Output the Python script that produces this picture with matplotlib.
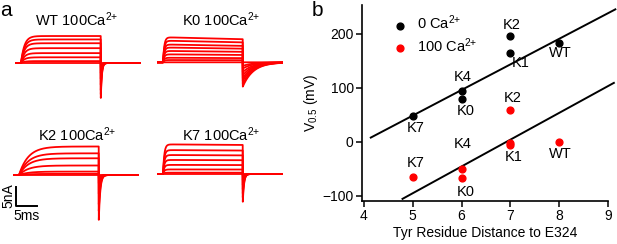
import numpy as np
import matplotlib.pyplot as plt

plt.rcParams['font.family'] = ['Liberation Sans', 'DejaVu Sans']
plt.rcParams['mathtext.fontset'] = 'custom'
plt.rcParams['mathtext.rm'] = 'Liberation Sans'
plt.rcParams['mathtext.it'] = 'Liberation Sans:italic'

W, H = 617, 244

# ---- panel a: current traces (steady-state levels in nA)
rec_names = ['WT', 'K0', 'K2', 'K7']
rec_levels = {
    'WT': [7.1, 6.2, 5.2, 3.9, 2.6, 1.5, 0.5, 0.0],
    'K0': [6.6, 5.7, 4.7, 3.9, 3.0, 2.1, 1.2, 0.6, 0.0],
    'K2': [7.5, 5.7, 4.4, 2.5, 0.9, 0.3, 0.0],
    'K7': [7.8, 6.3, 5.0, 3.7, 2.4, 1.2, 0.35, 0.0],
}
rec_tau_on = {'WT': 0.8, 'K0': 0.3, 'K2': 2.2, 'K7': 0.3}      # ms
rec_droop = {'WT': 0.0, 'K0': 0.08, 'K2': 0.0, 'K7': 0.02}     # fraction lost over step
rec_tail = {'WT': -9.2, 'K0': -6.4, 'K2': -11.8, 'K7': -7.3}   # nA, tail peak
rec_tau_tail = {'WT': 0.25, 'K0': 2.5, 'K2': 0.35, 'K7': 0.3}  # ms
# pixel position of step onset and baseline for each recording
rec_pos = {'WT': (21, 63), 'K0': (163, 62.3), 'K2': (19, 175), 'K7': (163, 174)}
rec_title_pos = {'WT': (77, 20), 'K0': (221, 20), 'K2': (77, 135), 'K7': (221, 135)}

t_on, t_off, t_end = 1.5, 20.5, 30.0
px_ms, px_nA = 4.2, 3.8
ylo, yhi = -13.0, 9.0

fig = plt.figure(figsize=(W / 100, H / 100), dpi=100)

t = np.arange(0, t_end, 0.02)
axes_a = {}
for name in rec_names:
    x_on, y_base = rec_pos[name]
    x0 = x_on - t_on * px_ms
    y_top = y_base - yhi * px_nA
    ax = fig.add_axes([x0 / W, 1 - (y_top + (yhi - ylo) * px_nA) / H,
                       t_end * px_ms / W, (yhi - ylo) * px_nA / H])
    ax.set_xlim(0, t_end)
    ax.set_ylim(ylo, yhi)
    ax.axis('off')
    levels = rec_levels[name]
    amax = max(levels)
    for a in levels:
        i = np.zeros_like(t)
        m = (t >= t_on) & (t < t_off)
        rise = 1 - np.exp(-(t[m] - t_on) / rec_tau_on[name])
        drop = 1 - rec_droop[name] * (t[m] - t_on) / (t_off - t_on)
        i[m] = a * rise * drop
        m2 = t >= t_off
        i[m2] = rec_tail[name] * (a / amax) ** 0.8 * np.exp(-(t[m2] - t_off) / rec_tau_tail[name])
        ax.plot(t, i, color='#ff0000', lw=1.3)
    axes_a[name] = ax
    tx, ty = rec_title_pos[name]
    fig.text(tx / W, 1 - ty / H, name + r' 100Ca$^{2{+}}$', ha='center', va='center', fontsize=10.5)

# scale bar (5 nA, 5 ms) drawn in K2 axes coordinates
ax = axes_a['K2']
sb_t, sb_i = 0.8, -8.2
ax.plot([sb_t, sb_t, sb_t + 5], [sb_i + 5, sb_i, sb_i], color='black', lw=1.4, clip_on=False)
fig.text(8 / W, 1 - 196 / H, '5nA', rotation=90, ha='center', va='center', fontsize=10)
fig.text(27 / W, 1 - 216 / H, '5ms', ha='center', va='center', fontsize=10)

fig.text(0 / W, 1 - 10 / H, 'a', ha='left', va='center', fontsize=15)
fig.text(312 / W, 1 - 11 / H, 'b', ha='left', va='center', fontsize=15)

# ---- panel b: V0.5 vs distance
mut_0 = ['K7', 'K4', 'K0', 'K2', 'K1', 'WT']
dist_0 = [5, 6, 6, 7, 7, 8]
v_0 = [48, 94.5, 79, 195.7, 165, 183]
lab_0 = [(5.06, 25), (6.03, 119), (6.08, 56), (7.03, 216), (7.22, 145), (8.02, 165)]

mut_100 = ['K7', 'K4', 'K0', 'K2', 'K1', 'K1', 'WT']
dist_100 = [5, 6, 6, 7, 7, 7, 8]
v_100 = [-65, -51, -68, 59, -3, -7, 0]
lab_100 = {'K7': (5.06, -39), 'K4': (6.03, -4), 'K0': (6.08, -94),
           'K2': (7.05, 80), 'K1': (7.07, -28), 'WT': (8.02, -23)}

# regression lines: slope, intercept, x range
fit_0 = (47.4, -188.8, 4.14, 9.15)
fit_100 = (49.6, -343.6, 4.79, 9.12)

axb = fig.add_axes([362 / W, 1 - 201 / H, 246 / W, 196 / H])
for slope, icpt, xa, xb in (fit_0, fit_100):
    xs = np.array([xa, xb])
    axb.plot(xs, slope * xs + icpt, color='black', lw=1.4, clip_on=False)

axb.scatter(dist_0, v_0, s=24, color='black', zorder=3, label='0 Ca$^{2{+}}$')
axb.scatter(dist_100, v_100, s=24, color='#ff0000', zorder=3, label='100 Ca$^{2{+}}$')
for (lx, ly), nm in zip(lab_0, mut_0):
    axb.text(lx, ly, nm, ha='center', va='center', fontsize=10.5)
for nm, (lx, ly) in lab_100.items():
    axb.text(lx, ly, nm, ha='center', va='center', fontsize=10.5)

axb.set_xlim(3.96, 9.0)
axb.set_ylim(-110, 253)
axb.set_xticks([4, 5, 6, 7, 8, 9])
axb.set_yticks([-100, 0, 100, 200])
for sp in ('top', 'right'):
    axb.spines[sp].set_visible(False)
for sp in ('left', 'bottom'):
    axb.spines[sp].set_linewidth(1.2)
axb.tick_params(direction='out', length=4, width=1.1, labelsize=10, pad=2)
axb.set_xlabel('Tyr Residue Distance to E324', fontsize=10, labelpad=2)
axb.set_ylabel('V$_{0.5}$ (mV)', fontsize=10, labelpad=2)
axb.legend(loc='upper left', bbox_to_anchor=(0.07, 0.985), frameon=False,
           fontsize=10.5, handletextpad=0.2, labelspacing=0.25, borderaxespad=0)

fig.savefig('out.png', dpi=100)
